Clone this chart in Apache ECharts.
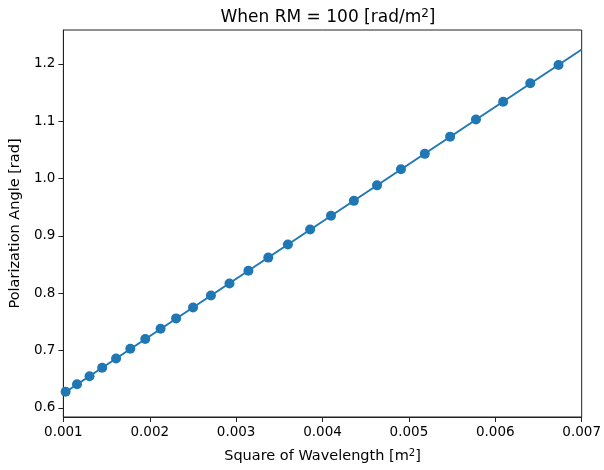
<!DOCTYPE html>
<html style="height: 100%">
    <head>
        <meta charset="utf-8">
    </head>
    <body style="height: 100%; margin: 0">
        <div id="container" style="width: 604px; height: 470px"></div>

        <script type="text/javascript" src="https://cdn.jsdelivr.net/npm/echarts@6/dist/echarts.min.js"></script>
        <script type="text/javascript">
// wavelength squared [m^2] of the sampled points
var lambdaSq = [
    0.001026, 0.001158, 0.001303, 0.001449, 0.001610, 0.001775, 0.001948,
    0.002125, 0.002305, 0.002501, 0.002708, 0.002923, 0.003142, 0.003372,
    0.003599, 0.003856, 0.004098, 0.004363, 0.004631, 0.004908, 0.005184,
    0.005477, 0.005776, 0.006091, 0.006405, 0.006732
];
// polarization angle [rad]
var angle = [
    0.628, 0.641, 0.655, 0.670, 0.686, 0.703, 0.720,
    0.738, 0.756, 0.775, 0.796, 0.817, 0.839, 0.862,
    0.885, 0.911, 0.935, 0.961, 0.988, 1.016, 1.043,
    1.073, 1.103, 1.134, 1.166, 1.198
];
// line runs edge to edge of the axes
var lineX = [0.001, 0.007];
var lineY = [0.625, 1.225];

var xTicks = [0.001, 0.002, 0.003, 0.004, 0.005, 0.006, 0.007];
var yTicks = [0.6, 0.7, 0.8, 0.9, 1.0, 1.1, 1.2];

var dom = document.getElementById("container");
var myChart = echarts.init(dom);

var blue = '#1f77b4';
var font = 'DejaVu Sans';

function pairs(xs, ys) {
    return xs.map(function (x, i) { return [x, ys[i]]; });
}

var option = {
    animation: false,
    backgroundColor: '#fff',
    title: {
        text: '{t|When RM = 100 [rad/m}{s|2}{t|]}',
        left: 323,
        textAlign: 'center',
        top: 3,
        textStyle: {
            rich: {
                t: { fontFamily: font, fontSize: 17, color: '#000', fontWeight: 'normal' },
                s: { fontFamily: font, fontSize: 12, color: '#000', fontWeight: 'normal', verticalAlign: 'top', padding: [0, 0, 8, 0] }
            }
        }
    },
    grid: {
        left: 63,
        right: 20,
        top: 30,
        bottom: 53,
        show: true,
        borderColor: '#222',
        borderWidth: 1,
        backgroundColor: 'transparent'
    },
    xAxis: {
        type: 'value',
        min: 0.001,
        max: 0.007,
        name: '{t|Square of Wavelength [m}{s|2}{t|]}',
        nameLocation: 'middle',
        nameGap: 31,
        nameTextStyle: {
            rich: {
                t: { fontFamily: font, fontSize: 14.5, color: '#000' },
                s: { fontFamily: font, fontSize: 10, color: '#000', verticalAlign: 'top', padding: [0, 0, 7, 0] }
            }
        },
        axisLine: { show: true, onZero: false, lineStyle: { color: '#222', width: 1 } },
        axisTick: { show: true, length: 5, customValues: xTicks, lineStyle: { color: '#222' } },
        axisLabel: {
            customValues: xTicks,
            fontFamily: font,
            fontSize: 13.5,
            color: '#000',
            margin: 8,
            formatter: function (v) { return v.toFixed(3); }
        },
        splitLine: { show: false }
    },
    yAxis: {
        type: 'value',
        min: 0.584,
        max: 1.259,
        name: 'Polarization Angle [rad]',
        nameLocation: 'middle',
        nameGap: 40,
        nameTextStyle: { fontFamily: font, fontSize: 14.5, color: '#000' },
        axisLine: { show: true, onZero: false, lineStyle: { color: '#222', width: 1 } },
        axisTick: { show: true, length: 5, customValues: yTicks, lineStyle: { color: '#222' } },
        axisLabel: {
            customValues: yTicks,
            fontFamily: font,
            fontSize: 13.5,
            color: '#000',
            margin: 8,
            formatter: function (v) { return v.toFixed(1); }
        },
        splitLine: { show: false }
    },
    series: [{
        type: 'line',
        data: pairs(lineX, lineY),
        showSymbol: false,
        lineStyle: { color: blue, width: 2 },
        clip: true,
        z: 2
    }, {
        type: 'scatter',
        data: pairs(lambdaSq, angle),
        symbol: 'circle',
        symbolSize: 10,
        itemStyle: { color: blue, opacity: 1 },
        clip: false,
        z: 3
    }]
};

if (option && typeof option === 'object') {
    myChart.setOption(option);
}
        </script>
    </body>
</html>
